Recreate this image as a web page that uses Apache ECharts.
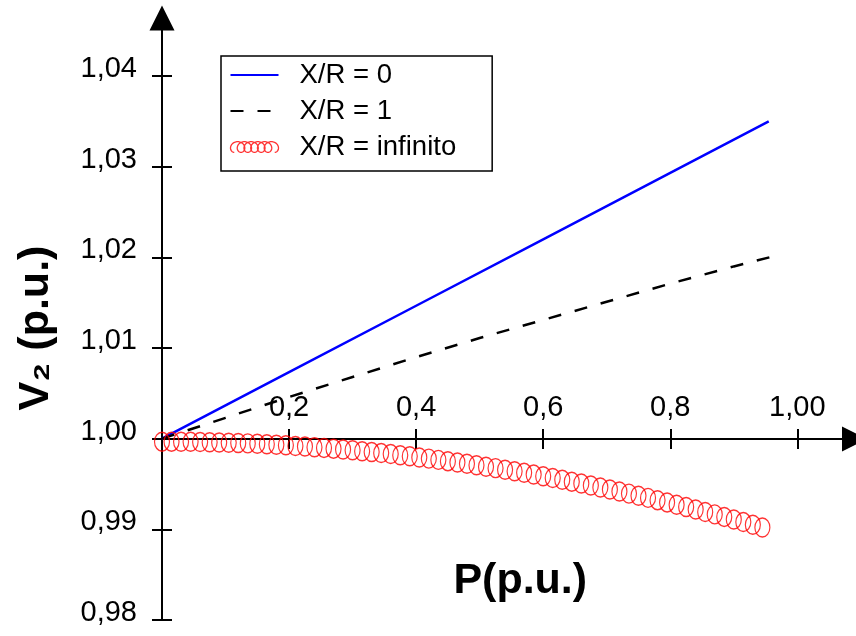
<!DOCTYPE html>
<html><head><meta charset="utf-8">
<script src="https://cdn.jsdelivr.net/npm/echarts@6/dist/echarts.min.js"></script>
<style>html,body{margin:0;padding:0;background:#fff}#c{width:856px;height:636px}</style>
</head><body><div id="c"></div>
<script>
const xTickValues = [0.2, 0.4, 0.6, 0.8, 1.0];
const xTickLabels = ['0,2', '0,4', '0,6', '0,8', '1,00'];
const yTickValues = [0.98, 0.99, 1.00, 1.01, 1.02, 1.03, 1.04];
const yTickLabels = ['0,98', '0,99', '1,00', '1,01', '1,02', '1,03', '1,04'];
const seriesNames = ['X/R = 0', 'X/R = 1', 'X/R = infinito'];

const pBlue = [0, 0.2, 0.4, 0.6, 0.8, 0.955];
const vBlue = [1.0, 1.00733, 1.01466, 1.02199, 1.02932, 1.0350];

const pDash = [0, 0.1, 0.2, 0.3, 0.4, 0.5, 0.6, 0.7, 0.8, 0.9, 0.956];
const vDash = [1.0, 1.0023, 1.0046, 1.0068, 1.0090, 1.0111, 1.0131, 1.0151, 1.0171, 1.0190, 1.0200];

const pRed = [0,0.015,0.03,0.045,0.06,0.075,0.09,0.105,0.12,0.135,
  0.15,0.165,0.18,0.195,0.21,0.225,0.24,0.255,0.27,0.285,
  0.3,0.315,0.33,0.345,0.36,0.375,0.39,0.405,0.42,0.435,
  0.45,0.465,0.48,0.495,0.51,0.525,0.54,0.555,0.57,0.585,
  0.6,0.615,0.63,0.645,0.66,0.675,0.69,0.705,0.72,0.735,
  0.75,0.765,0.78,0.795,0.81,0.825,0.84,0.855,0.87,0.885,
  0.9,0.915,0.93,0.945];
const vRed = [0.99967,0.99967,0.99966,0.99965,0.99963,0.99961,0.99958,0.99955,0.99952,0.99948,
  0.99943,0.99938,0.99933,0.99927,0.99920,0.99913,0.99906,0.99898,0.99890,0.99881,
  0.99872,0.99862,0.99852,0.99841,0.99830,0.99818,0.99806,0.99793,0.99780,0.99766,
  0.99752,0.99738,0.99723,0.99707,0.99691,0.99675,0.99658,0.99640,0.99623,0.99604,
  0.99585,0.99566,0.99546,0.99526,0.99505,0.99484,0.99462,0.99440,0.99418,0.99394,
  0.99371,0.99347,0.99322,0.99297,0.99272,0.99246,0.99219,0.99192,0.99165,0.99137,
  0.99108,0.99080,0.99050,0.99020];

const FONT = "'Liberation Sans', Arial, Helvetica, sans-serif";
function labelFor(values, labels) {
  return function (v) {
    const i = values.findIndex(t => Math.abs(t - v) < 1e-6);
    return i >= 0 ? labels[i] : '';
  };
}
function pairs(xs, ys) { return xs.map((x, i) => [x, ys[i]]); }

// coil-shaped legend icon (style only)
function coilIcon() {
  const a = 1, b = 5, loops = 6, n = 300;
  let d = '';
  for (let k = 0; k <= n; k++) {
    const t = k * loops * 2 * Math.PI / n;
    const x = a * t - b * Math.sin(t);
    const y = b * Math.cos(t);
    d += (k === 0 ? 'M' : 'L') + x.toFixed(2) + ' ' + y.toFixed(2) + ' ';
  }
  return 'path://' + d;
}

const chart = echarts.init(document.getElementById('c'), null, { renderer: 'canvas' });
const axisLineStyle = { color: '#000', width: 2 };
const hiddenSymbol = { color: 'rgba(0,0,0,0)', borderWidth: 0, opacity: 0 };
const option = {
  animation: false,
  backgroundColor: '#fff',
  grid: { left: 162, right: 1.5, top: 18, bottom: 16, outerBoundsMode: 'none' },
  legend: {
    orient: 'vertical', left: 221, top: 56,
    padding: [4, 36, 9, 7], itemGap: 6, itemWidth: 48, itemHeight: 18,
    borderColor: '#000', borderWidth: 1.5, backgroundColor: '#fff', borderRadius: 0,
    textStyle: { fontSize: 27.5, color: '#000', fontFamily: FONT, lineHeight: 30, padding: [0, 0, 0, 16] },
    data: [
      { name: seriesNames[0], itemStyle: hiddenSymbol },
      { name: seriesNames[1], itemStyle: hiddenSymbol },
      { name: seriesNames[2], icon: coilIcon(), itemStyle: { color: 'none', borderColor: '#ff0000', borderWidth: 1.3 } }
    ]
  },
  xAxis: [
    {
      type: 'value', min: 0, max: 1.09, position: 'bottom', offset: -181,
      axisLine: { show: true, lineStyle: axisLineStyle, symbol: ['none', 'triangle'], symbolSize: [25, 25] },
      axisTick: { show: true, length: 10, lineStyle: { color: '#000', width: 2 }, customValues: xTickValues },
      axisLabel: { inside: true, margin: 17, customValues: xTickValues, formatter: labelFor(xTickValues, xTickLabels),
        fontSize: 29, color: '#000', fontFamily: FONT },
      splitLine: { show: false },
      name: 'P(p.u.)', nameLocation: 'middle', nameGap: 121,
      nameTextStyle: { fontSize: 43, fontWeight: 'bold', color: '#000', fontFamily: FONT, padding: [0, 0, 0, 24] }
    },
    {
      type: 'value', min: 0, max: 1.09, position: 'bottom', offset: -181,
      axisLine: { show: false },
      axisTick: { show: true, inside: true, length: 10, lineStyle: { color: '#000', width: 2 }, customValues: xTickValues },
      axisLabel: { show: false }, splitLine: { show: false }
    }
  ],
  yAxis: [
    {
      type: 'value', min: 0.98, max: 1.0464, position: 'left',
      axisLine: { show: true, lineStyle: axisLineStyle, symbol: ['none', 'triangle'], symbolSize: [25, 25] },
      axisTick: { show: true, length: 10, lineStyle: { color: '#000', width: 2 }, customValues: yTickValues },
      axisLabel: { margin: 25, customValues: yTickValues, formatter: labelFor(yTickValues, yTickLabels),
        fontSize: 29, color: '#000', fontFamily: FONT, verticalAlign: 'bottom', lineHeight: 14 },
      splitLine: { show: false },
      name: 'V₂ (p.u.)', nameLocation: 'middle', nameGap: 104,
      nameTextStyle: { fontSize: 43, fontWeight: 'bold', color: '#000', fontFamily: FONT, padding: [0, 18, 0, 0] }
    },
    {
      type: 'value', min: 0.98, max: 1.0464, position: 'left',
      axisLine: { show: false },
      axisTick: { show: true, inside: true, length: 10, lineStyle: { color: '#000', width: 2 }, customValues: yTickValues },
      axisLabel: { show: false }, splitLine: { show: false }
    }
  ],
  series: [
    { name: seriesNames[0], type: 'line', data: pairs(pBlue, vBlue), symbol: 'none', z: 3,
      lineStyle: { color: '#0000ff', width: 2.5 }, itemStyle: { color: '#0000ff' } },
    { name: seriesNames[1], type: 'line', data: pairs(pDash, vDash), symbol: 'none', z: 3,
      lineStyle: { color: '#000', width: 2.5, type: [13, 14] }, itemStyle: { color: '#000' } },
    { name: seriesNames[2], type: 'scatter', data: pairs(pRed, vRed), symbol: 'circle', symbolSize: [15, 19], z: 4,
      itemStyle: { color: 'rgba(0,0,0,0)', borderColor: '#ff0000', borderWidth: 1.3 } }
  ]
};
chart.setOption(option);
</script>
</body></html>
